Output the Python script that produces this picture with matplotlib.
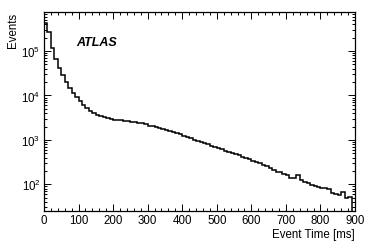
import numpy as np
import matplotlib
matplotlib.use("Agg")
import matplotlib.pyplot as plt
from matplotlib.ticker import MultipleLocator, LogLocator, NullFormatter

plt.rcParams['font.family'] = ['Liberation Sans', 'DejaVu Sans']
plt.rcParams['mathtext.fontset'] = 'custom'
plt.rcParams['mathtext.rm'] = 'Liberation Sans'
plt.rcParams['mathtext.default'] = 'regular'

# Bin edges in ms (10 ms bins, 0-900)
bin_edges = list(range(0, 910, 10))
# Events per bin
events = [
    430000, 270000, 115000, 66000, 42000, 29000, 20000, 14500, 11200, 9200,
    7400, 6000, 5100, 4500, 4000, 3700, 3450, 3250, 3100, 2950,
    2850, 2800, 2750, 2700, 2640, 2560, 2500, 2420, 2350, 2280,
    2100, 2030, 1950, 1870, 1780, 1680, 1600, 1500, 1420, 1330,
    1230, 1160, 1090, 1020, 960, 900, 840, 790, 730, 690,
    640, 610, 570, 540, 500, 475, 445, 420, 390, 365,
    340, 320, 300, 275, 255, 235, 205, 190, 185, 170,
    165, 140, 135, 165, 125, 113, 105, 95, 90, 88,
    84, 84, 78, 65, 59, 58, 68, 50, 52, 20,
]

fig = plt.figure(figsize=(3.74, 2.53), dpi=100)
ax = fig.add_axes([44/374, 1-212/253, (355-44)/374, (212-13)/253])

ax.stairs(events, bin_edges, baseline=None, color='black', linewidth=1.1)

ax.set_yscale('log')
ax.set_xlim(0, 900)
ax.set_ylim(25, 7.6e5)

ax.xaxis.set_major_locator(MultipleLocator(100))
ax.xaxis.set_minor_locator(MultipleLocator(20))
ax.yaxis.set_major_locator(LogLocator(base=10, numticks=10))
ax.yaxis.set_minor_locator(LogLocator(base=10, subs=np.arange(2, 10), numticks=20))
ax.yaxis.set_minor_formatter(NullFormatter())

ax.tick_params(which='both', direction='in', top=True, right=True,
               labelsize=8.3, width=0.7, pad=2.5)
ax.tick_params(which='major', length=5)
ax.tick_params(which='minor', length=2.5)
for s in ax.spines.values():
    s.set_linewidth(0.9)

ax.set_xlabel('Event Time [ms]', fontsize=8.3, loc='right', labelpad=1)
ax.set_ylabel('Events', fontsize=8.3, loc='top', labelpad=2)

ax.text(0.103, 0.835, 'ATLAS', transform=ax.transAxes, fontsize=9,
        fontweight='bold', fontstyle='italic')

fig.savefig('out.png', dpi=100)
